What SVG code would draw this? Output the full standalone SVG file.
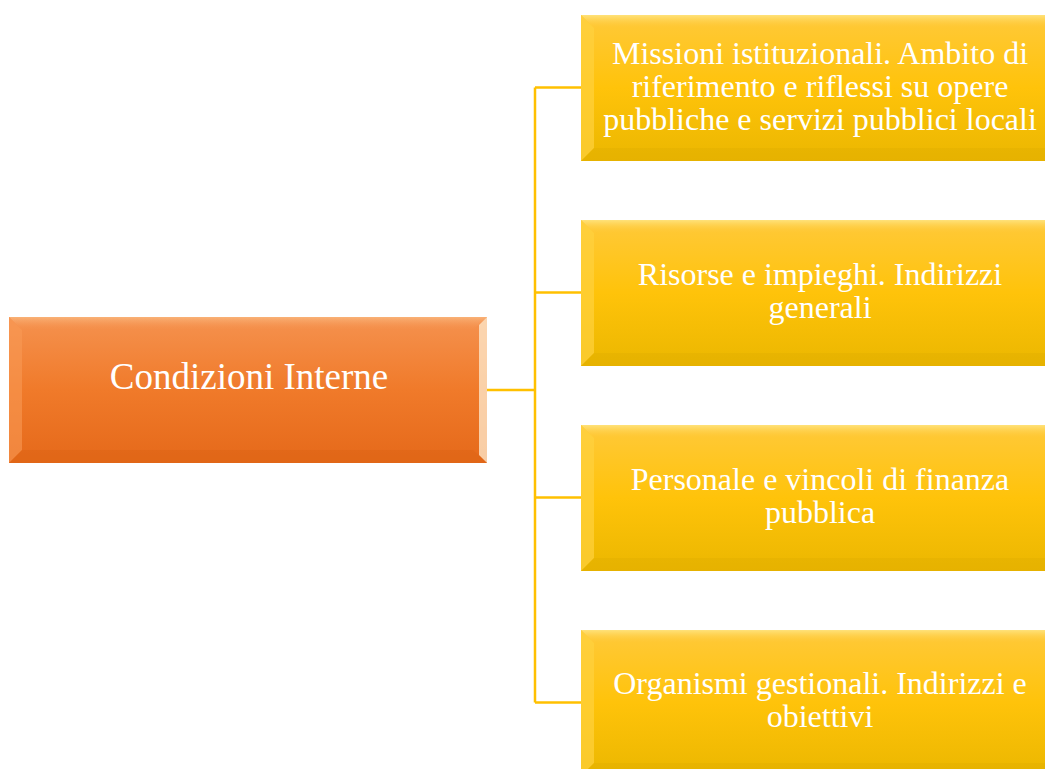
<svg xmlns="http://www.w3.org/2000/svg" width="1045" height="769" viewBox="0 0 1045 769">
<defs>
<linearGradient id="gO" x1="0" y1="0" x2="0" y2="1">
<stop offset="0" stop-color="#F5924F"/>
<stop offset="0.5" stop-color="#F07A2A"/>
<stop offset="1" stop-color="#E5691A"/>
</linearGradient>
<linearGradient id="gY" x1="0" y1="0" x2="0" y2="1">
<stop offset="0" stop-color="#FFC93A"/>
<stop offset="0.5" stop-color="#FFC30A"/>
<stop offset="1" stop-color="#EBB700"/>
</linearGradient>
<linearGradient id="gOtop" x1="0" y1="0" x2="0" y2="1">
<stop offset="0" stop-color="#F9B277"/>
<stop offset="1" stop-color="#F5924F" stop-opacity="0"/>
</linearGradient>
<linearGradient id="gYtop" x1="0" y1="0" x2="0" y2="1">
<stop offset="0" stop-color="#FFE27A"/>
<stop offset="1" stop-color="#FFC93A" stop-opacity="0"/>
</linearGradient>
<g id="bevelO">
<polygon points="0,0 478,0 464,13 13,13" fill="url(#gOtop)"/>
<polygon points="0,0 13,13 13,133 0,146" fill="#F89A55" opacity="0.6"/>
<polygon points="478,0 478,146 470,138 470,8" fill="#FDE6C8" opacity="0.8"/>
<polygon points="0,146 13,133 464,133 478,146" fill="#D85F12" opacity="0.3"/>
</g>
<g id="bevelY">
<polygon points="0,0 478,0 464,13 13,13" fill="url(#gYtop)"/>
<polygon points="0,0 13,13 13,133 0,146" fill="#FFD23F" opacity="0.7"/>
<polygon points="0,146 13,133 464,133 478,146" fill="#D9A800" opacity="0.3"/>
</g>
</defs>
<style>
.conn{stroke:#FFC000;stroke-width:2.5;fill:none}
.tO{font-family:"Liberation Serif","Times New Roman",serif;font-size:37px;fill:#FFFFFF;text-anchor:middle}
.tY{font-family:"Liberation Serif","Times New Roman",serif;font-size:32px;fill:#FFFFFF;text-anchor:middle}
</style>
<rect width="1045" height="769" fill="#FFFFFF"/>
<g id="connectors">
<path class="conn" d="M487,390 H535"/>
<path class="conn" d="M535,87.5 V702.5"/>
<path class="conn" d="M535,87.5 H582"/>
<path class="conn" d="M535,292.5 H582"/>
<path class="conn" d="M535,497.5 H582"/>
<path class="conn" d="M535,702.5 H582"/>
</g>
<g id="node-root">
<rect x="9" y="317" width="478" height="146" fill="url(#gO)"/>
<use href="#bevelO" x="9" y="317"/>
<text class="tO" x="249" y="389">Condizioni Interne</text>
</g>
<g id="node-1">
<rect x="581" y="15" width="478" height="146" fill="url(#gY)"/>
<use href="#bevelY" x="581" y="15"/>
<text class="tY" x="820" y="64"><tspan x="820">Missioni istituzionali. Ambito di</tspan><tspan x="820" dy="33">riferimento e riflessi su opere</tspan><tspan x="820" dy="33">pubbliche e servizi pubblici locali</tspan></text>
</g>
<g id="node-2">
<rect x="581" y="220" width="478" height="146" fill="url(#gY)"/>
<use href="#bevelY" x="581" y="220"/>
<text class="tY" x="820" y="285"><tspan x="820">Risorse e impieghi. Indirizzi</tspan><tspan x="820" dy="33">generali</tspan></text>
</g>
<g id="node-3">
<rect x="581" y="425" width="478" height="146" fill="url(#gY)"/>
<use href="#bevelY" x="581" y="425"/>
<text class="tY" x="820" y="490"><tspan x="820">Personale e vincoli di finanza</tspan><tspan x="820" dy="33">pubblica</tspan></text>
</g>
<g id="node-4">
<rect x="581" y="630" width="478" height="146" fill="url(#gY)"/>
<use href="#bevelY" x="581" y="630"/>
<text class="tY" x="820" y="694"><tspan x="820">Organismi gestionali. Indirizzi e</tspan><tspan x="820" dy="33">obiettivi</tspan></text>
</g>
</svg>
